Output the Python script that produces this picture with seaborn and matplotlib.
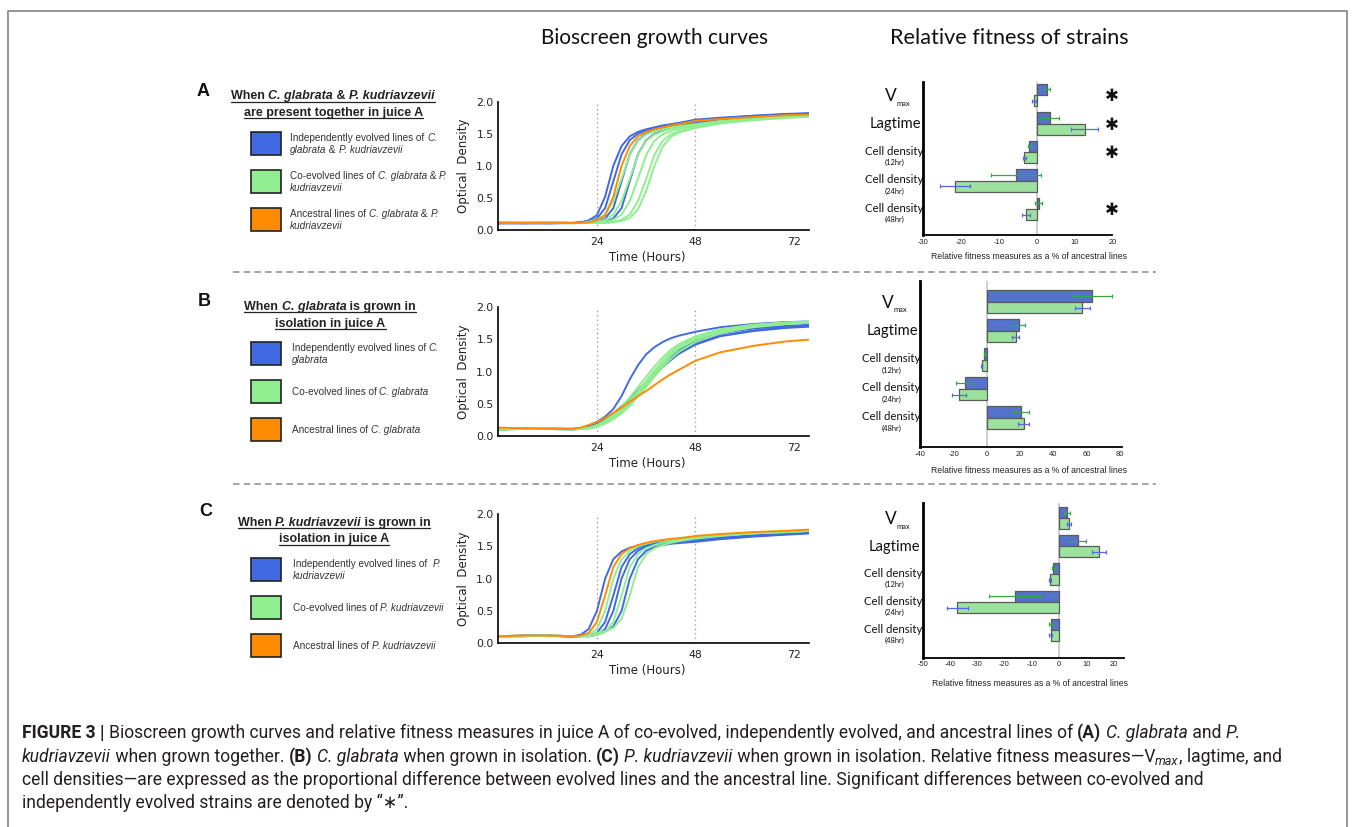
import re
import numpy as np
import pandas as pd
import matplotlib
matplotlib.use("Agg")
import matplotlib.pyplot as plt
import seaborn as sns
from matplotlib import font_manager, transforms
from matplotlib.lines import Line2D
from matplotlib.patches import Rectangle

# ------------------------------------------------------------------ data
hours = [0, 6, 12, 18, 20, 22, 24, 26, 28, 30, 32, 34, 36, 38, 40, 42, 44, 48, 54, 62, 70, 76]

# Panel A: C. glabrata & P. kudriavzevii together
a_indep_1 = [0.11, 0.10, 0.11, 0.11, 0.12, 0.15, 0.23, 0.52, 1.00, 1.31, 1.46, 1.53, 1.57, 1.60, 1.63, 1.65, 1.67, 1.72, 1.75, 1.78, 1.81, 1.82]
a_indep_2 = [0.10, 0.11, 0.11, 0.11, 0.12, 0.13, 0.18, 0.34, 0.76, 1.18, 1.40, 1.50, 1.55, 1.59, 1.62, 1.64, 1.66, 1.71, 1.74, 1.78, 1.80, 1.82]
a_indep_3 = [0.12, 0.11, 0.12, 0.11, 0.11, 0.12, 0.13, 0.18, 0.34, 0.76, 1.18, 1.40, 1.50, 1.55, 1.59, 1.62, 1.64, 1.70, 1.74, 1.77, 1.80, 1.81]
a_indep_4 = [0.11, 0.11, 0.10, 0.11, 0.11, 0.11, 0.12, 0.13, 0.18, 0.34, 0.76, 1.18, 1.40, 1.50, 1.55, 1.59, 1.62, 1.67, 1.72, 1.76, 1.79, 1.81]
a_coevo_1 = [0.11, 0.12, 0.11, 0.11, 0.11, 0.13, 0.16, 0.24, 0.45, 0.80, 1.17, 1.39, 1.49, 1.54, 1.575, 1.60, 1.62, 1.65, 1.70, 1.74, 1.77, 1.79]
a_coevo_2 = [0.12, 0.11, 0.12, 0.11, 0.11, 0.11, 0.13, 0.16, 0.24, 0.45, 0.80, 1.17, 1.39, 1.49, 1.54, 1.575, 1.60, 1.63, 1.69, 1.73, 1.76, 1.78]
a_coevo_3 = [0.11, 0.12, 0.11, 0.10, 0.11, 0.11, 0.11, 0.13, 0.16, 0.24, 0.45, 0.80, 1.17, 1.39, 1.49, 1.54, 1.575, 1.62, 1.68, 1.73, 1.76, 1.78]
a_coevo_4 = [0.12, 0.11, 0.11, 0.11, 0.11, 0.11, 0.11, 0.11, 0.13, 0.16, 0.24, 0.45, 0.80, 1.17, 1.39, 1.49, 1.54, 1.60, 1.67, 1.72, 1.75, 1.77]
a_coevo_5 = [0.11, 0.11, 0.12, 0.11, 0.11, 0.11, 0.11, 0.11, 0.12, 0.14, 0.19, 0.32, 0.61, 1.00, 1.30, 1.45, 1.52, 1.59, 1.66, 1.71, 1.75, 1.77]
a_ancestral = [0.11, 0.11, 0.11, 0.11, 0.11, 0.12, 0.15, 0.23, 0.52, 1.00, 1.31, 1.46, 1.53, 1.57, 1.60, 1.63, 1.65, 1.70, 1.73, 1.76, 1.79, 1.80]

# Panel B: C. glabrata alone
b_indep_1 = [0.10, 0.12, 0.11, 0.11, 0.12, 0.16, 0.22, 0.30, 0.42, 0.62, 0.88, 1.10, 1.27, 1.38, 1.46, 1.52, 1.56, 1.62, 1.69, 1.74, 1.77, 1.78]
b_indep_2 = [0.10, 0.11, 0.11, 0.10, 0.11, 0.14, 0.19, 0.26, 0.35, 0.46, 0.58, 0.71, 0.84, 0.98, 1.10, 1.21, 1.30, 1.44, 1.56, 1.64, 1.69, 1.71]
b_indep_3 = [0.11, 0.11, 0.12, 0.11, 0.11, 0.13, 0.17, 0.23, 0.31, 0.41, 0.53, 0.66, 0.80, 0.94, 1.07, 1.18, 1.28, 1.42, 1.55, 1.63, 1.68, 1.70]
b_indep_4 = [0.11, 0.12, 0.11, 0.11, 0.12, 0.14, 0.18, 0.25, 0.34, 0.45, 0.57, 0.70, 0.84, 0.98, 1.11, 1.23, 1.33, 1.47, 1.60, 1.67, 1.71, 1.73]
b_coevo_1 = [0.10, 0.11, 0.11, 0.11, 0.11, 0.13, 0.17, 0.24, 0.33, 0.45, 0.60, 0.76, 0.92, 1.08, 1.22, 1.34, 1.43, 1.55, 1.66, 1.73, 1.76, 1.78]
b_coevo_2 = [0.11, 0.12, 0.11, 0.11, 0.11, 0.12, 0.16, 0.22, 0.30, 0.41, 0.55, 0.70, 0.86, 1.02, 1.17, 1.30, 1.40, 1.53, 1.65, 1.72, 1.76, 1.77]
b_coevo_3 = [0.10, 0.11, 0.12, 0.11, 0.11, 0.12, 0.15, 0.20, 0.27, 0.37, 0.50, 0.64, 0.80, 0.96, 1.11, 1.25, 1.36, 1.50, 1.63, 1.71, 1.75, 1.77]
b_coevo_4 = [0.11, 0.11, 0.11, 0.10, 0.11, 0.12, 0.14, 0.19, 0.26, 0.35, 0.47, 0.61, 0.76, 0.92, 1.07, 1.20, 1.31, 1.46, 1.60, 1.69, 1.74, 1.76]
b_coevo_5 = [0.10, 0.12, 0.11, 0.11, 0.11, 0.12, 0.15, 0.21, 0.29, 0.40, 0.53, 0.68, 0.84, 1.00, 1.14, 1.27, 1.38, 1.52, 1.64, 1.72, 1.76, 1.78]
b_ancestral = [0.13, 0.12, 0.11, 0.11, 0.13, 0.17, 0.22, 0.28, 0.36, 0.44, 0.53, 0.62, 0.70, 0.79, 0.88, 0.96, 1.03, 1.17, 1.30, 1.40, 1.47, 1.50]

# Panel C: P. kudriavzevii alone
c_indep_1 = [0.11, 0.12, 0.12, 0.11, 0.13, 0.22, 0.50, 1.00, 1.30, 1.42, 1.48, 1.51, 1.53, 1.54, 1.55, 1.56, 1.57, 1.59, 1.62, 1.66, 1.69, 1.71]
c_indep_2 = [0.11, 0.11, 0.12, 0.10, 0.11, 0.12, 0.16, 0.33, 0.74, 1.18, 1.38, 1.47, 1.52, 1.55, 1.57, 1.58, 1.59, 1.61, 1.64, 1.67, 1.70, 1.71]
c_indep_3 = [0.10, 0.12, 0.11, 0.11, 0.11, 0.11, 0.13, 0.22, 0.50, 1.00, 1.30, 1.43, 1.50, 1.53, 1.55, 1.56, 1.57, 1.59, 1.63, 1.66, 1.69, 1.71]
c_indep_4 = [0.11, 0.11, 0.12, 0.11, 0.11, 0.11, 0.14, 0.18, 0.26, 0.50, 1.00, 1.30, 1.43, 1.49, 1.52, 1.54, 1.55, 1.57, 1.61, 1.65, 1.68, 1.70]
c_coevo_1 = [0.10, 0.11, 0.12, 0.11, 0.11, 0.13, 0.22, 0.50, 1.00, 1.30, 1.43, 1.50, 1.54, 1.57, 1.59, 1.61, 1.62, 1.64, 1.68, 1.71, 1.73, 1.74]
c_coevo_2 = [0.11, 0.12, 0.11, 0.11, 0.11, 0.11, 0.13, 0.17, 0.33, 0.74, 1.18, 1.38, 1.47, 1.52, 1.555, 1.58, 1.60, 1.63, 1.67, 1.70, 1.72, 1.74]
c_coevo_3 = [0.10, 0.11, 0.12, 0.11, 0.11, 0.12, 0.16, 0.19, 0.24, 0.38, 0.74, 1.18, 1.38, 1.47, 1.52, 1.555, 1.58, 1.62, 1.66, 1.70, 1.72, 1.74]
c_ancestral = [0.11, 0.12, 0.12, 0.11, 0.12, 0.16, 0.33, 0.74, 1.18, 1.38, 1.47, 1.52, 1.555, 1.58, 1.60, 1.615, 1.625, 1.66, 1.69, 1.72, 1.74, 1.76]

growth_ticks_x = [24, 48, 72]
growth_ticks_y = [0.0, 0.5, 1.0, 1.5, 2.0]
growth_tick_labels_y = ["0.0", "0.5", "1.0", "1.5", "2.0"]

# Relative fitness (% of ancestral lines)
measures = ["Vmax", "Lagtime", "Cell density (12hr)", "Cell density (24hr)", "Cell density (48hr)"]
measure_main = ["V", "Lagtime", "Cell density", "Cell density", "Cell density"]
measure_sub = ["max", "", "(12hr)", "(24hr)", "(48hr)"]

a_indep_fit = [2.7, 3.5, -2.0, -5.5, 0.5]
a_indep_err = [0.7, 2.3, 0.3, 6.7, 0.9]
a_coevo_fit = [-0.7, 12.7, -3.3, -21.6, -2.8]
a_coevo_err = [0.6, 3.5, 0.4, 4.0, 1.1]
a_significant = [True, True, True, False, True]

b_indep_fit = [63.4, 19.0, -1.6, -13.4, 20.8]
b_indep_err = [11.7, 3.8, 0.3, 5.0, 4.8]
b_coevo_fit = [57.4, 17.2, -3.2, -16.8, 22.2]
b_coevo_err = [4.5, 2.2, 0.5, 4.0, 3.4]

c_indep_fit = [2.9, 7.1, -2.1, -16.2, -2.8]
c_indep_err = [1.0, 3.0, 0.6, 9.6, 0.7]
c_coevo_fit = [3.8, 14.8, -3.3, -37.3, -3.1]
c_coevo_err = [0.7, 2.6, 0.5, 3.9, 0.6]

a_bar_ticks = [-30, -20, -10, 0, 10, 20]
b_bar_ticks = [-40, -20, 0, 20, 40, 60, 80]
c_bar_ticks = [-50, -40, -30, -20, -10, 0, 10, 20]

# ------------------------------------------------------------------ style
W, H, DPI = 1358, 827, 100
BLUE, GREEN, ORANGE = "#4169e1", "#90ee90", "#ff8c00"
ERR_ON_BLUE, ERR_ON_GREEN = "#35a845", "#5566f2"
group_order = ["Independently evolved", "Co-evolved", "Ancestral"]

sns.set_theme(style="white")
plt.rcParams["font.family"] = ["DejaVu Sans"]
plt.rcParams["axes.unicode_minus"] = False
plt.rcParams["lines.scale_dashes"] = False

avail = {f.name for f in font_manager.fontManager.ttflist}
CAP_FAM = "Liberation Sans Narrow" if "Liberation Sans Narrow" in avail else "Roboto"
ARIAL = "Liberation Sans"
HUMAN = "Lato" if "Lato" in avail else "Open Sans"

fig = plt.figure(figsize=(W / DPI, H / DPI), dpi=DPI)
fig.patch.set_facecolor("white")
renderer = fig.canvas.get_renderer()


def add_axes_px(l, t, r, b):
    return fig.add_axes([l / W, 1 - b / H, (r - l) / W, (b - t) / H])


def text_width(s, size, family, weight, style):
    kw = dict(fontsize=size, family=family, weight=weight, style=style)
    t1 = fig.text(0, 0, "|" + s + "|", **kw)
    t2 = fig.text(0, 0, "||", **kw)
    w = t1.get_window_extent(renderer).width - t2.get_window_extent(renderer).width
    t1.remove()
    t2.remove()
    return w


def norm_runs(runs):
    return [(r[0], r[1], r[2], r[3] if len(r) > 3 else 1.0, r[4] if len(r) > 4 else 0.0) for r in runs]


def draw_runs(x, y, runs, size, family, ha="left", color="#222222", fit=None,
              underline=False, ul_dy=2.4, ul_lw=0.9):
    """y is the visual (cap) centre in pixels."""
    runs = norm_runs(runs)

    def widths(sz):
        return [text_width(s, sz * sc, family, w, st) for s, w, st, sc, dy in runs]

    ws = widths(size)
    if fit is not None:
        size = size * fit / sum(ws)
        ws = widths(size)
    total = sum(ws)
    x0 = x - total / 2 if ha == "center" else (x - total if ha == "right" else x)
    base = y + 0.36 * size * DPI / 72
    cx = x0
    for (s, w, st, sc, dy), wd in zip(runs, ws):
        fig.text(cx / W, 1 - (base + dy) / H, s, fontsize=size * sc, family=family,
                 weight=w, style=st, color=color, ha="left", va="baseline")
        cx += wd
    if underline:
        fig.add_artist(Line2D([x0 / W, cx / W], [1 - (base + ul_dy) / H] * 2,
                              color=color, lw=ul_lw, transform=fig.transFigure))
    return size


N, B, I, BI = ("normal", "normal"), ("bold", "normal"), ("normal", "italic"), ("bold", "italic")


def R(s, st, scale=1.0, dy=0.0):
    return (s, st[0], st[1], scale, dy)


# ------------------------------------------------------------------ frame
fig.add_artist(Line2D([8 / W, 8 / W, 1347 / W, 1347 / W], [0, 1 - 10.5 / H, 1 - 10.5 / H, 0],
                      color="#8c8c8c", lw=1.3, transform=fig.transFigure))
for ysep in (272, 484):
    fig.add_artist(Line2D([233 / W, 1156 / W], [1 - ysep / H] * 2, color="#8a8a8a", lw=1.1,
                          ls=(0, (4.7, 3.0)), transform=fig.transFigure))

fig.text(655 / W, 1 - 38 / H, "Bioscreen growth curves", family=HUMAN, fontsize=15,
         ha="center", va="center", color="#111111")
fig.text(1009 / W, 1 - 38 / H, "Relative fitness of strains", family=HUMAN, fontsize=15.6,
         ha="center", va="center", color="#111111")


# ------------------------------------------------------------------ growth panels
def growth_panel(box, curves):
    ax = add_axes_px(*box)
    rows = []
    for grp in group_order:
        for k, vals in enumerate(curves[grp]):
            for t, v in zip(hours, vals):
                rows.append((grp, f"{grp}-{k}", t, v))
    df = pd.DataFrame(rows, columns=["group", "line", "hour", "od"])
    for xv in (24, 48):
        ax.axvline(xv, color="#9a9a9a", ls=(0, (1.0, 2.2)), lw=0.9, zorder=0)
    sns.lineplot(data=df, x="hour", y="od", hue="group", units="line", estimator=None,
                 hue_order=group_order, palette=[BLUE, GREEN, ORANGE], linewidth=1.4,
                 legend=False, ax=ax)
    ax.set_xlim(0, 75.7)
    ax.set_ylim(0, 2.0)
    ax.set_xticks(growth_ticks_x)
    ax.set_xticklabels([str(v) for v in growth_ticks_x])
    ax.set_yticks(growth_ticks_y)
    ax.set_yticklabels(growth_tick_labels_y)
    ax.tick_params(direction="in", length=4, width=1.0, labelsize=7.8, colors="#222222")
    ax.tick_params(axis="x", pad=5.0)
    ax.tick_params(axis="y", pad=3.5)
    for sp in ("top", "right"):
        ax.spines[sp].set_visible(False)
    for sp in ("left", "bottom"):
        ax.spines[sp].set_color("black")
        ax.spines[sp].set_linewidth(1.2)
    l, t, r, b = box
    ax.set_xlabel("Time (Hours)", fontsize=8.5, color="#222222")
    ax.xaxis.set_label_coords((647 - l) / (r - l), -27.5 / (b - t))
    ax.xaxis.label.set_va("center")
    ax.set_ylabel("Optical  Density", fontsize=8.5, color="#222222")
    ax.yaxis.set_label_coords((464 - l) / (r - l), 0.5)
    ax.yaxis.label.set_va("center")
    ax.set_facecolor("none")
    return ax


growth_panel((498.3, 101.7, 809.3, 230.0), {
    "Independently evolved": [a_indep_1, a_indep_2, a_indep_3, a_indep_4],
    "Co-evolved": [a_coevo_1, a_coevo_2, a_coevo_3, a_coevo_4, a_coevo_5],
    "Ancestral": [a_ancestral]})
growth_panel((498.3, 307.3, 809.3, 436.0), {
    "Independently evolved": [b_indep_1, b_indep_2, b_indep_3, b_indep_4],
    "Co-evolved": [b_coevo_1, b_coevo_2, b_coevo_3, b_coevo_4, b_coevo_5],
    "Ancestral": [b_ancestral]})
growth_panel((498.3, 514.0, 809.3, 643.3), {
    "Independently evolved": [c_indep_1, c_indep_2, c_indep_3, c_indep_4],
    "Co-evolved": [c_coevo_1, c_coevo_2, c_coevo_3],
    "Ancestral": [c_ancestral]})


# ------------------------------------------------------------------ bar panels
def bar_panel(box, ylim, xlim, xticks, indep, indep_err, coevo, coevo_err, xlabel_px, stars=None):
    l, t, r, b = box
    ax = add_axes_px(*box)
    df = pd.DataFrame({"measure": measures * 2,
                       "value": list(indep) + list(coevo),
                       "group": ["Independently evolved"] * 5 + ["Co-evolved"] * 5})
    ax.axvline(0, color="#c9c9c9", lw=1.3, zorder=0)
    sns.barplot(data=df, y="measure", x="value", hue="group", order=measures,
                hue_order=["Independently evolved", "Co-evolved"], palette=[BLUE, GREEN],
                orient="h", errorbar=None, width=0.8, edgecolor="#5a5a5a", linewidth=0.9,
                legend=False, ax=ax, zorder=2)
    for cont, errs, ecol in zip(ax.containers, [indep_err, coevo_err], [ERR_ON_BLUE, ERR_ON_GREEN]):
        ys = [p.get_y() + p.get_height() / 2 for p in cont.patches]
        xs = [p.get_x() + p.get_width() for p in cont.patches]
        ax.errorbar(xs, ys, xerr=errs, fmt="none", ecolor=ecol, elinewidth=0.9,
                    capsize=1.6, capthick=0.9, zorder=3)
    ax.set_xlim(*xlim)
    ax.set_ylim(*ylim)
    ax.set_xticks(xticks)
    ax.set_xticklabels([str(v) for v in xticks], family=ARIAL)
    ax.set_yticks(range(len(measures)))
    ax.set_yticklabels([])
    ax.tick_params(axis="y", direction="in", length=3, width=0.8, color="#b0b0b0")
    ax.tick_params(axis="x", length=0, pad=2.6, labelsize=5.4, labelcolor="#222222")
    for sp in ("top", "right"):
        ax.spines[sp].set_visible(False)
    ax.spines["left"].set_color("black")
    ax.spines["left"].set_linewidth(2.0)
    ax.spines["bottom"].set_color("black")
    ax.spines["bottom"].set_linewidth(1.3)
    ax.set_ylabel("")
    ax.set_xlabel("Relative fitness measures as a % of ancestral lines", family=ARIAL,
                  fontsize=6.2, color="#222222")
    ax.xaxis.set_label_coords((xlabel_px[0] - l) / (r - l), (b - xlabel_px[1]) / (b - t))
    ax.xaxis.label.set_va("center")
    ax.set_facecolor("none")

    trans = transforms.blended_transform_factory(fig.transFigure, ax.transData)

    def off(dy):
        return trans + transforms.ScaledTranslation(0, -dy / DPI, fig.dpi_scale_trans)

    for i, (main, sub) in enumerate(zip(measure_main, measure_sub)):
        if main == "V":
            ax.text((l - 32) / W, i, "V", transform=off(1.0), ha="center", va="center",
                    fontsize=12.5, family=HUMAN, color="#111111")
            ax.text((l - 19.5) / W, i, sub, transform=off(8), ha="center", va="center",
                    fontsize=5.4, family=HUMAN, color="#111111")
        elif sub == "":
            ax.text((l - 28.3) / W, i, main, transform=off(0.5), ha="center", va="center",
                    fontsize=10.6, family=HUMAN, color="#111111")
        else:
            ax.text((l - 29.5) / W, i, main, transform=off(-0.8), ha="center", va="center",
                    fontsize=8.2, family=HUMAN, color="#111111")
            ax.text((l - 28.3) / W, i, sub, transform=off(10.5), ha="center", va="center",
                    fontsize=5.4, family=HUMAN, color="#111111")
    if stars is not None:
        for i, s in enumerate(stars):
            if s:
                ax.text(1112.3 / W, i, "\u2731", transform=off(1.0), ha="center", va="center",
                        fontsize=12, family="DejaVu Sans", color="#111111")
    return ax


bar_panel((923.3, 81.7, 1112.3, 235.0), (4.91, -0.467), (-30, 20), a_bar_ticks,
          a_indep_fit, a_indep_err, a_coevo_fit, a_coevo_err, (1029, 256.7), stars=a_significant)
bar_panel((920.3, 281.0, 1121.7, 447.3), (5.02, -0.714), (-40, 81), b_bar_ticks,
          b_indep_fit, b_indep_err, b_coevo_fit, b_coevo_err, (1029, 470.7))
bar_panel((922.8, 502.7, 1124.3, 657.7), (5.0, -0.56), (-50, 24), c_bar_ticks,
          c_indep_fit, c_indep_err, c_coevo_fit, c_coevo_err, (1030, 683.3))

# ------------------------------------------------------------------ legends / panel titles
for letter, (lx, ly) in zip("ABC", [(197, 89), (198, 299), (199, 510)]):
    draw_runs(lx, ly, [R(letter, B)], 13, ARIAL, color="#111111")

tsize = draw_runs(333, 94.8, [R("When ", B), R("C. glabrata", BI), R(" & ", B), R("P. kudriavzevii", BI)],
                  8.6, ARIAL, ha="center", fit=202, underline=True)
draw_runs(333.5, 111, [R("are present together in juice A", B)], tsize, ARIAL, ha="center", underline=True)
draw_runs(330, 305.5, [R("When ", B), R("C. glabrata", BI), R(" is grown in", B)], tsize, ARIAL,
          ha="center", underline=True)
draw_runs(330.5, 322, [R("isolation in juice A", B)], tsize, ARIAL, ha="center", underline=True)
draw_runs(334, 521.3, [R("When ", B), R("P. kudriavzevii", BI), R(" is grown in", B)], tsize, ARIAL,
          ha="center", underline=True)
draw_runs(334, 537.8, [R("isolation in juice A", B)], tsize, ARIAL, ha="center", underline=True)

legend_colors = [BLUE, GREEN, ORANGE]
legend_blocks = [
    (290, [143.7, 181.5, 219.7], [
        [[R("Independently evolved lines of ", N), R("C.", I)],
         [R("glabrata", I), R(" & ", N), R("P. kudriavzevii", I)]],
        [[R("Co-evolved lines of ", N), R("C. glabrata", I), R(" & ", N), R("P.", I)],
         [R("kudriavzevii", I)]],
        [[R("Ancestral lines of ", N), R("C. glabrata", I), R(" & ", N), R("P.", I)],
         [R("kudriavzevii", I)]]]),
    (291.7, [353.7, 391.5, 429.3], [
        [[R("Independently evolved lines of ", N), R("C.", I)], [R("glabrata", I)]],
        [[R("Co-evolved lines of ", N), R("C. glabrata", I)]],
        [[R("Ancestral lines of ", N), R("C. glabrata", I)]]]),
    (292.7, [569.3, 607.3, 645.3], [
        [[R("Independently evolved lines of  ", N), R("P.", I)], [R("kudriavzevii", I)]],
        [[R("Co-evolved lines of ", N), R("P. kudriavzevii", I)]],
        [[R("Ancestral lines of ", N), R("P. kudriavzevii", I)]]]),
]
lsize = None
for tx, centers, labels in legend_blocks:
    for cy, col, lines in zip(centers, legend_colors, labels):
        fig.add_artist(Rectangle((250.7 / W, 1 - (cy + 11.5) / H), 30.3 / W, 23 / H,
                                 transform=fig.transFigure, facecolor=col, edgecolor="#222222", lw=1.2))
        n = len(lines)
        for j, ln in enumerate(lines):
            yy = cy + (j - (n - 1) / 2) * 12.0
            if lsize is None:
                lsize = draw_runs(tx, yy, ln, 6.3, ARIAL, color="#333333", fit=148)
            else:
                draw_runs(tx, yy, ln, lsize, ARIAL, color="#333333")

# ------------------------------------------------------------------ caption
CF = [CAP_FAM, "DejaVu Sans"]
cap_lines = [
    [R("FIGURE 3 | ", B), R("Bioscreen growth curves and relative fitness measures in juice A of co-evolved, "
                            "independently evolved, and ancestral lines of ", N), R("(A)", B), R(" ", N),
     R("C. glabrata", I), R(" and ", N), R("P.", I)],
    [R("kudriavzevii", I), R(" when grown together. ", N), R("(B)", B), R(" ", N), R("C. glabrata", I),
     R(" when grown in isolation. ", N), R("(C)", B), R(" ", N), R("P. kudriavzevii", I),
     R(" when grown in isolation. Relative fitness measures\u2014V", N), R("max", I, 0.72, 3.0),
     R(", lagtime, and", N)],
    [R("cell densities\u2014are expressed as the proportional difference between evolved lines and the "
       "ancestral line. Significant differences between co-evolved and", N)],
    [R("independently evolved strains are denoted by \u201c\u2217\u201d.", N)],
]
csize = draw_runs(22, 732, cap_lines[0], 11, CF, color="#231f20", fit=1215)
draw_runs(22, 755.5, cap_lines[1], csize, CF, color="#231f20")
draw_runs(22, 779, cap_lines[2], csize, CF, color="#231f20")
draw_runs(22, 802, cap_lines[3], csize, CF, color="#231f20")

fig.savefig("out.png", dpi=DPI, facecolor="white")
